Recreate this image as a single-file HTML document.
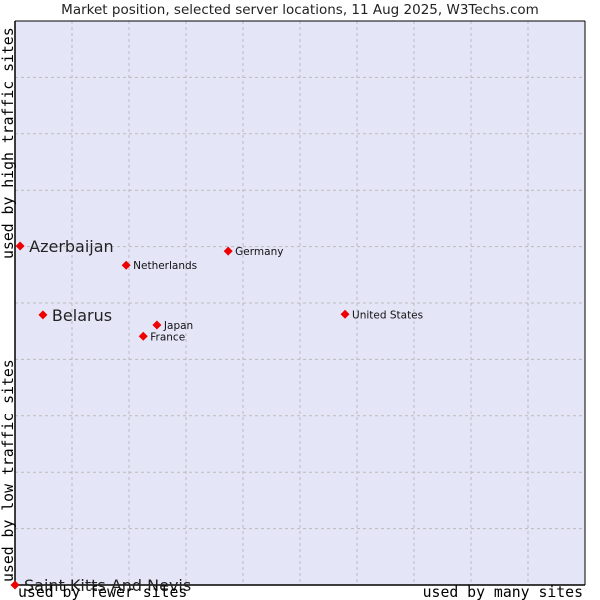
<!DOCTYPE html>
<html><head><meta charset="utf-8"><style>
body{margin:0;background:#fff;}
svg{display:block;font-family:"DejaVu Sans",sans-serif;}
</style></head><body>
<svg id="c" width="600" height="600" xmlns="http://www.w3.org/2000/svg">
<text x="300" y="14" text-anchor="middle" font-size="13.5" fill="#222">Market position, selected server locations, 11 Aug 2025, W3Techs.com</text>
<rect x="15" y="21" width="570" height="564" fill="#e4e6f8"/>
<g id="grid"></g>
<path d="M15 21V585H585" fill="none" stroke="#000" stroke-width="1.5"/>
<line x1="15" y1="21" x2="585" y2="21" stroke="#000"/>
<line x1="585" y1="21" x2="585" y2="585" stroke="#000"/>
<g id="pts"></g>
<text x="18" y="597" font-family="'DejaVu Sans Mono',monospace" font-size="14.8">used by fewer sites</text>
<text x="583" y="597" text-anchor="end" font-family="'DejaVu Sans Mono',monospace" font-size="14.8">used by many sites</text>
<text transform="translate(13,582) rotate(-90)" font-family="'DejaVu Sans Mono',monospace" font-size="14.8">used by low traffic sites</text>
<text transform="translate(13,259) rotate(-90)" font-family="'DejaVu Sans Mono',monospace" font-size="14.8">used by high traffic sites</text>
</svg>
<script>
const names=["Azerbaijan","Belarus","Saint Kitts And Nevis","Netherlands","Germany","Japan","France","United States"];
const xVals=[0.9,4.9,0,19.5,37.4,24.9,22.5,57.9];
const yVals=[60.1,47.9,0,56.7,59.2,46.1,44.1,48.0];
const big=[true,true,true,false,false,false,false,false];
const X=v=>15+v*5.7, Y=v=>585-v*5.64;
const NS="http://www.w3.org/2000/svg";
const g=document.getElementById('grid'), p=document.getElementById('pts');
for(let i=1;i<10;i++){
 const l=document.createElementNS(NS,'line');
 
 
 l.setAttribute('x1',X(i*10));l.setAttribute('x2',X(i*10));l.setAttribute('y1',21);l.setAttribute('y2',585);
 l.setAttribute('stroke','#bbb');l.setAttribute('stroke-dasharray','3,3');g.appendChild(l);
 const h=document.createElementNS(NS,'line');
 
 
 h.setAttribute('y1',Y(i*10));h.setAttribute('y2',Y(i*10));h.setAttribute('x1',15);h.setAttribute('x2',585);
 h.setAttribute('stroke','#bbb');h.setAttribute('stroke-dasharray','3,3');g.appendChild(h);
}
names.forEach((n,i)=>{
 const x=X(xVals[i]),y=Y(yVals[i]);
 const d=document.createElementNS(NS,'path');
 
 
 d.setAttribute('d',`M${x} ${y-4.5}L${x+4.5} ${y}L${x} ${y+4.5}L${x-4.5} ${y}Z`);
 d.setAttribute('fill','#e00');p.appendChild(d);
 const t=document.createElementNS(NS,'text');
 
 
 t.setAttribute('x',x+(big[i]?9:7));t.setAttribute('y',y+(big[i]?6:4));
 t.setAttribute('font-size',big[i]?16:10.5);t.setAttribute('fill',big[i]?'#222':'#111');
 t.textContent=n;p.appendChild(t);
});
</script>
</body></html>
